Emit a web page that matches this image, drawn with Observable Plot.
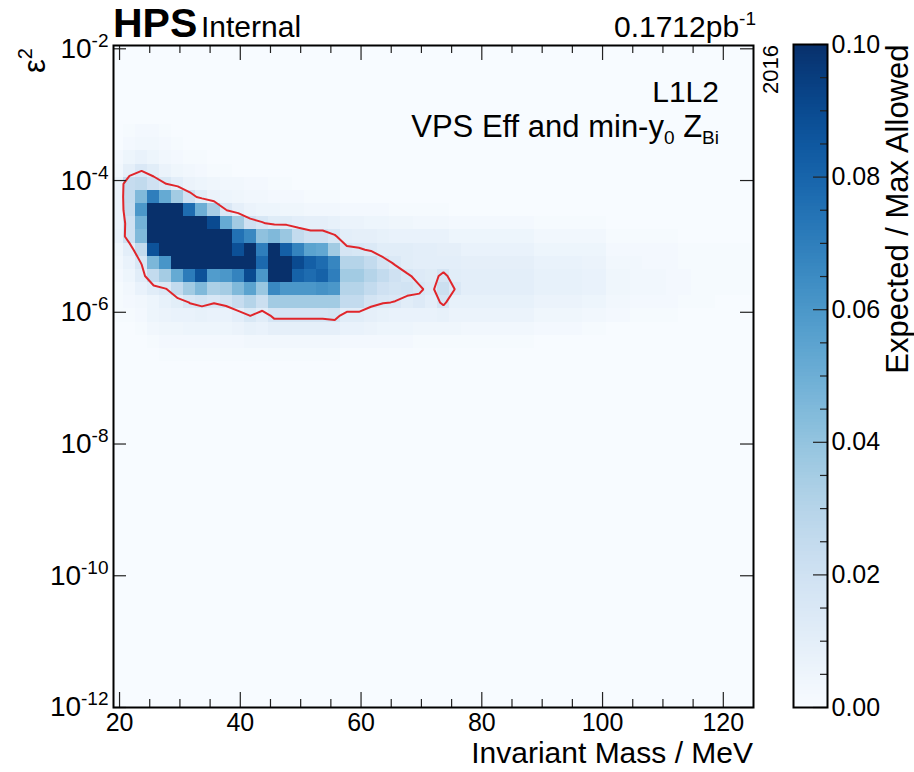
<!DOCTYPE html>
<html>
<head>
<meta charset="utf-8">
<script src="https://cdn.jsdelivr.net/npm/d3@7"></script>
<script src="https://cdn.jsdelivr.net/npm/@observablehq/plot@0.6"></script>
<style>
  body { margin: 0; background: #fff; }
  #chart { position: relative; width: 914px; height: 772px; }
  #chart svg { position: absolute; top: 0; }
</style>
</head>
<body>
<div id="chart"></div>
<script>
// ---------------- data ----------------
// invariant-mass bin centres (MeV), 2 MeV wide
const massBins = [19.65, 21.65, 23.65, 25.65, 27.65, 29.65, 31.65, 33.65, 35.65, 37.65,
  39.65, 41.65, 43.65, 45.65, 47.65, 49.65, 51.65, 53.65, 55.65, 57.65,
  59.65, 61.65, 63.65, 65.65, 67.65, 69.65, 71.65, 73.65, 75.65, 77.65,
  79.65, 81.65, 83.65, 85.65, 87.65, 89.65, 91.65, 93.65, 95.65, 97.65,
  99.65, 101.65, 103.65, 105.65, 107.65, 109.65, 111.65, 113.65, 115.65, 117.65,
  119.65, 121.65, 123.65, 125.65];
const massHalfWidth = 1;
// log10(eps^2) bin centres, top to bottom, 0.2 wide
const logEpsBins = [-2.05, -2.25, -2.45, -2.65, -2.85, -3.05, -3.25, -3.45, -3.65, -3.85,
  -4.05, -4.25, -4.45, -4.65, -4.85, -5.05, -5.25, -5.45, -5.65, -5.85,
  -6.05, -6.25, -6.45, -6.65, -6.85, -7.05, -7.25, -7.45, -7.65, -7.85,
  -8.05, -8.25, -8.45, -8.65, -8.85, -9.05, -9.25, -9.45, -9.65, -9.85,
  -10.05, -10.25, -10.45, -10.65, -10.85, -11.05, -11.25, -11.45, -11.65, -11.85, -12.05];
const logEpsHalfWidth = 0.1;

// Expected / Max Allowed, in units of 1e-3, for the rows that are not empty
// (columns follow massBins; missing columns are 0)
const ratioRowLogEps = [-3.25, -3.45, -3.65, -3.85, -4.05, -4.25, -4.45, -4.65, -4.85,
  -5.05, -5.25, -5.45, -5.65, -5.85, -6.05, -6.25, -6.45, -6.65];
const ratioPerMille = [
  [0, 1, 2, 2, 1],
  [0, 2, 3, 3, 2, 1],
  [2, 5, 7, 5, 3, 2, 1, 1],
  [3, 9, 14.8, 11, 6, 4, 3, 2, 1, 1],
  [6, 24, 26, 20, 15.2, 10, 6, 5, 4, 3, 3, 2, 2, 1, 1],
  [6, 25, 45, 70, 52, 36, 20, 11, 6, 5, 4, 3, 3, 2, 2, 2, 1, 1, 1],
  [6, 24, 60, 130, 140, 120, 77, 50, 34, 15.3, 9, 6, 5, 5, 4, 4, 3, 3, 3, 2, 2, 2, 2, 1, 1, 1, 1, 1],
  [6, 20, 48, 150, 170, 160, 140, 120, 90, 52, 36, 20, 16, 12, 12, 10, 9, 9, 8, 6, 6, 5, 5, 4, 4, 3, 3, 3, 2, 2, 2, 2, 2, 2, 2, 1, 1, 1, 1, 1, 1],
  [7, 20, 45, 140, 180, 190, 170, 160, 140, 115, 75, 66, 41, 45, 38, 25, 20, 20, 16, 10, 9, 9, 8, 7, 7, 7, 7, 7, 5,
   5, 5, 5, 5, 5, 5, 3, 3, 3, 3, 3, 3, 1, 1, 1, 1, 1, 1],
  [4, 10, 25, 87, 160, 200, 200, 190, 170, 140, 88, 110, 70, 120, 82, 68, 55, 53, 36, 17, 16, 14, 11, 11, 11, 10, 10, 9, 9,
   7, 7, 7, 7, 7, 7, 5, 5, 5, 5, 5, 5, 2, 2, 2, 2, 2, 2, 1, 1, 1, 1, 1, 1],
  [3, 7, 15.5, 46, 61, 140, 180, 170, 160, 130, 110, 105, 78, 140, 120, 90, 82, 77, 67, 30, 30, 25, 18, 14, 11, 10, 10, 10, 10,
   9, 9, 9, 9, 9, 9, 7, 7, 7, 7, 6, 6, 3, 3, 3, 2, 2, 2, 1, 1, 1, 1, 1, 1],
  [2, 5, 11, 25, 35, 52, 71, 87, 58, 60, 68, 90, 60, 115, 110, 81, 77, 81, 70, 36, 36, 30, 25, 20, 16, 13, 12, 17, 11,
   10, 10, 10, 10, 10, 10, 8, 8, 8, 8, 7, 7, 4, 4, 3, 3, 3, 2, 2, 1, 1, 1, 1, 1],
  [1, 3, 7, 11, 14, 25, 36, 45, 33, 35, 45, 55, 38, 66, 60, 60, 60, 62, 60, 30, 30, 25, 20, 18, 19, 16, 13, 22, 14.5,
   10, 10, 10, 10, 10, 10, 8, 8, 8, 8, 7, 7, 4, 4, 3, 3, 3, 2, 2, 1, 1, 1, 1, 1],
  [1, 2, 3, 5, 8, 10.3, 15.5, 18, 15.5, 18, 24, 30, 22, 36, 36, 36, 36, 36, 36, 25, 25, 18, 15.5, 14.7, 11, 13, 10, 17, 8,
   8, 8, 8, 8, 8, 8, 6, 6, 6, 6, 5, 5, 3, 3, 2, 2, 2, 2, 1, 1, 1],
  [1, 1, 2, 5, 6, 7, 7, 8, 7, 7, 10, 15.2, 11, 17, 17, 17, 17, 17, 18, 11, 11, 9, 8, 7, 7, 7, 7, 8, 6,
   6, 6, 6, 6, 6, 6, 4, 4, 4, 4, 3, 3, 2, 2, 1, 1, 1, 1],
  [0, 0, 1, 3, 4, 4, 5, 5, 5, 5, 6, 8, 7, 9, 9, 9, 9, 9, 9, 7, 7, 6, 5, 5, 5, 4, 4, 4, 4,
   3, 3, 3, 3, 3, 3, 2, 2, 2, 2, 1, 1],
  [0, 0, 0, 1, 2, 2, 2, 2, 2, 2, 2, 3, 3, 3, 3, 3, 3, 3, 3, 2, 2, 2, 2, 2, 2, 1, 1, 1, 1,
   1, 1, 1, 1, 1, 1],
  [0, 0, 0, 0, 1, 1, 1, 1, 1, 1, 1, 1, 1, 1, 1, 1, 1, 1, 1]
];
const contourLevel = 0.015;

const xMajorTicks = [20, 40, 60, 80, 100, 120];
const xMinorTicks = [25, 30, 35, 45, 50, 55, 65, 70, 75, 85, 90, 95, 105, 110, 115];
const yMajorTicks = [-12, -10, -8, -6, -4, -2];
const cbMajorTicks = [0, 0.02, 0.04, 0.06, 0.08, 0.1];
const cbMinorTicks = [0.005, 0.01, 0.015, 0.025, 0.03, 0.035, 0.045, 0.05, 0.055, 0.065, 0.07, 0.075, 0.085, 0.09, 0.095];

// ---------------- build grid ----------------
const grid = logEpsBins.map(ly => {
  const r = ratioRowLogEps.findIndex(v => Math.abs(v - ly) < 1e-6);
  return massBins.map((m, c) => (r >= 0 && ratioPerMille[r][c] != null ? ratioPerMille[r][c] / 1000 : 0));
});
const cells = [];
logEpsBins.forEach((ly, r) => massBins.forEach((m, c) => cells.push({m, ly, v: grid[r][c]})));
const flat = grid.flat();

const FONT = '"Liberation Sans", Arial, Helvetica, sans-serif';
const colorCfg = {type: "linear", domain: [0, 0.1], scheme: "blues", clamp: true};
const W = 914, H = 772, ML = 113, MR = 161, MT = 45, MB = 65;
const FW = W - ML - MR, FH = H - MT - MB;
const tickCol = "#222";

const main = Plot.plot({
  width: W, height: H,
  marginLeft: ML, marginRight: MR, marginTop: MT, marginBottom: MB,
  style: {fontFamily: FONT, fontSize: "25px", color: "#000", background: "transparent", overflow: "visible"},
  x: {domain: [19, 125], axis: null},
  y: {domain: [-12, -1.95], axis: null},
  color: colorCfg,
  marks: [
    Plot.rect(cells, {
      x1: d => d.m - massHalfWidth, x2: d => d.m + massHalfWidth,
      y1: d => d.ly - logEpsHalfWidth, y2: d => d.ly + logEpsHalfWidth,
      fill: "v", shapeRendering: "crispEdges", clip: true
    }),
    Plot.contour(flat, {
      width: massBins.length, height: logEpsBins.length,
      x1: massBins[0] - massHalfWidth, x2: massBins[massBins.length - 1] + massHalfWidth,
      y1: logEpsBins[0] + logEpsHalfWidth, y2: logEpsBins[logEpsBins.length - 1] - logEpsHalfWidth,
      value: d => d,
      thresholds: [contourLevel],
      fill: "none", stroke: "#e0262b", strokeWidth: 2, clip: true
    }),
    Plot.ruleX(xMajorTicks, {x: d => d, insetTop: FH - 15, stroke: tickCol, strokeWidth: 1.2}),
    Plot.ruleX(xMajorTicks, {x: d => d, insetBottom: FH - 15, stroke: tickCol, strokeWidth: 1.2}),
    Plot.ruleX(xMinorTicks, {x: d => d, insetTop: FH - 8, stroke: tickCol, strokeWidth: 1.2}),
    Plot.ruleX(xMinorTicks, {x: d => d, insetBottom: FH - 8, stroke: tickCol, strokeWidth: 1.2}),
    Plot.ruleY(yMajorTicks, {y: d => d, insetRight: FW - 13, stroke: tickCol, strokeWidth: 1.2}),
    Plot.ruleY(yMajorTicks, {y: d => d, insetLeft: FW - 13, stroke: tickCol, strokeWidth: 1.2}),
    Plot.frame({stroke: "#000", strokeWidth: 2}),
    Plot.text(xMajorTicks, {x: d => d, frameAnchor: "bottom", lineAnchor: "top", dy: 6, fontSize: 25, text: d => String(d)}),
    Plot.text(yMajorTicks, {y: d => d, frameAnchor: "left", textAnchor: "end", dx: -5, fontSize: 28, text: d => "10^" + d})
  ]
});

const cbW = 131, cbML = 10, cbFrameW = 34;
const colorbar = Plot.plot({
  width: cbW, height: H,
  marginLeft: cbML, marginRight: cbW - cbML - cbFrameW, marginTop: 44, marginBottom: MB,
  style: {fontFamily: FONT, fontSize: "25px", color: "#000", background: "transparent", overflow: "visible"},
  x: {domain: [0, 1], axis: null},
  y: {domain: [0, 0.1], axis: null},
  color: colorCfg,
  marks: [
    Plot.rect(d3.range(0, 0.1, 0.0005), {x1: 0, x2: 1, y1: d => d, y2: d => d + 0.0005, fill: d => d + 0.00025, shapeRendering: "crispEdges"}),
    Plot.ruleY(cbMajorTicks, {y: d => d, insetLeft: cbFrameW - 14, stroke: tickCol, strokeWidth: 1.2}),
    Plot.ruleY(cbMinorTicks, {y: d => d, insetLeft: cbFrameW - 7, stroke: tickCol, strokeWidth: 1.2}),
    Plot.frame({stroke: "#000", strokeWidth: 2}),
    Plot.text(cbMajorTicks, {y: d => d, frameAnchor: "right", textAnchor: "start", dx: 4, fontSize: 25, text: d => d3.format(".2f")(d)}),
    Plot.text(["Expected / Max Allowed"], {frameAnchor: "top-right", rotate: -90, textAnchor: "end", lineAnchor: "middle", dx: 71, fontSize: 31, text: d => d})
  ]
});

const chart = document.getElementById("chart");
main.style.left = "0px";
colorbar.style.left = (ML + FW + 40 - cbML) + "px";
chart.appendChild(main);
chart.appendChild(colorbar);

// y tick labels as 10^n with real superscripts
d3.select(main).selectAll("text").each(function () {
  const m = /^10\^(.+)$/.exec(this.textContent);
  if (!m) return;
  const t = d3.select(this);
  t.text("");
  t.append("tspan").text("10");
  t.append("tspan").attr("dy", "-11").attr("font-size", 19).text(m[1]);
});

// annotations
const svg = d3.select(main);
function addText(o, parts) {
  const t = svg.append("text")
    .attr("text-anchor", o.anchor || "start")
    .attr("font-size", o.size)
    .attr("fill", "#000");
  if (o.weight) t.attr("font-weight", o.weight);
  if (o.rotate) t.attr("transform", `translate(${o.x},${o.y}) rotate(${o.rotate})`);
  else t.attr("x", o.x).attr("y", o.y);
  parts.forEach(p => {
    const s = t.append("tspan").text(p.t);
    if (p.dy) s.attr("dy", p.dy);
    if (p.size) s.attr("font-size", p.size);
  });
}
addText({x: 113, y: 37, size: 41, weight: "bold"}, [{t: "HPS"}]);
addText({x: 201, y: 37, size: 30}, [{t: "Internal"}]);
addText({x: 756, y: 37, size: 30, anchor: "end"}, [{t: "0.1712pb"}, {t: "-1", dy: -12, size: 19}]);
addText({x: 719, y: 102, size: 30, anchor: "end"}, [{t: "L1L2"}]);
addText({x: 719, y: 137, size: 31, anchor: "end"}, [
  {t: "VPS Eff and min-y"}, {t: "0", dy: 7, size: 19}, {t: " Z", dy: -7}, {t: "Bi", dy: 7, size: 19}
]);
addText({x: 778, y: 45, size: 22, anchor: "end", rotate: -90}, [{t: "2016"}]);
addText({x: 45, y: 48, size: 31, anchor: "end", rotate: -90}, [{t: "ε"}, {t: "2", dy: -13, size: 20}]);
addText({x: 753, y: 763, size: 30, anchor: "end"}, [{t: "Invariant Mass / MeV"}]);
</script>
</body>
</html>
